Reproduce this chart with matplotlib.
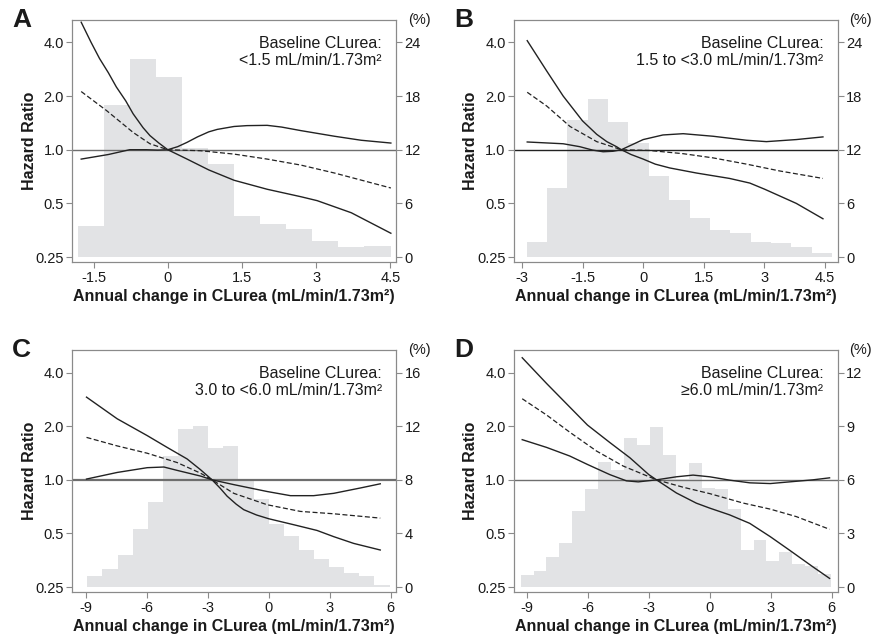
import numpy as np
import matplotlib; matplotlib.use("Agg")
import matplotlib.pyplot as plt

plt.rcParams["font.family"] = ["Liberation Sans", "DejaVu Sans"]
plt.rcParams["axes.unicode_minus"] = False

# ---- panel A: baseline CLurea < 1.5
a_x1 = [-1.75, -1.55, -1.38, -1.2, -1.04, -0.85, -0.70, -0.5, -0.36, -0.18, 0, 0.2, 0.39, 0.83, 1.34, 2.01, 2.69, 3.02, 3.71, 4.51]
a_hr1 = [5.19, 4.0, 3.25, 2.7, 2.25, 1.88, 1.59, 1.33, 1.20, 1.09, 1.0, 0.94, 0.886, 0.77, 0.674, 0.60, 0.545, 0.518, 0.443, 0.34]
a_x2 = [-1.75, -1.2, -0.77, -0.43, -0.2, 0, 0.2, 0.39, 0.6, 0.83, 1.0, 1.34, 1.6, 2.01, 2.3, 2.69, 3.37, 3.91, 4.51]
a_hr2 = [0.886, 0.94, 1.0, 1.0, 0.995, 1.0, 1.04, 1.10, 1.18, 1.26, 1.30, 1.35, 1.365, 1.37, 1.34, 1.28, 1.19, 1.13, 1.09]
a_xd = [-1.75, -1.24, -0.70, -0.36, 0, 0.66, 1.34, 2.01, 2.69, 3.37, 4.51]
a_hrd = [2.12, 1.66, 1.25, 1.08, 1.0, 0.987, 0.945, 0.886, 0.82, 0.74, 0.61]
a_bin0, a_binw = -1.82, 0.527
a_pct = [3.45, 16.95, 22.1, 20.1, 12.2, 10.35, 4.57, 3.75, 3.15, 1.8, 1.09, 1.27]

# ---- panel B: 1.5 to <3.0
b_x1 = [-2.87, -2.39, -1.98, -1.50, -1.15, -0.9, -0.66, -0.54, -0.3, 0, 0.3, 0.66, 1.32, 2.14, 2.64, 3.01, 3.79, 4.45]
b_hr1 = [4.09, 2.77, 2.0, 1.45, 1.22, 1.11, 1.04, 1.0, 0.94, 0.886, 0.83, 0.79, 0.74, 0.69, 0.65, 0.60, 0.50, 0.41]
b_x2 = [-2.87, -1.98, -1.57, -1.25, -0.99, -0.75, -0.54, -0.3, 0, 0.49, 0.99, 1.73, 2.56, 3.05, 3.79, 4.45]
b_hr2 = [1.105, 1.08, 1.04, 0.995, 0.974, 0.98, 1.0, 1.06, 1.14, 1.21, 1.23, 1.19, 1.13, 1.11, 1.14, 1.18]
b_xd = [-2.87, -2.39, -1.81, -1.15, -0.54, 0.16, 0.99, 1.73, 2.56, 3.38, 4.45]
b_hrd = [2.10, 1.76, 1.35, 1.11, 1.0, 0.99, 0.95, 0.90, 0.83, 0.76, 0.69]
b_bin0, b_binw = -2.885, 0.504
b_pct = [1.68, 7.76, 15.3, 17.65, 15.07, 12.76, 9.03, 6.34, 4.36, 2.99, 2.72, 1.64, 1.53, 1.08, 0.45]

# ---- panel C: 3.0 to <6.0
c_x1 = [-8.97, -7.46, -5.98, -5.0, -4.02, -3.36, -2.79, -2.4, -2.05, -1.6, -1.23, -0.6, 0, 1.23, 2.38, 3.2, 4.18, 5.49]
c_hr1 = [2.91, 2.20, 1.77, 1.52, 1.31, 1.14, 1.0, 0.9, 0.81, 0.73, 0.68, 0.635, 0.605, 0.56, 0.52, 0.48, 0.44, 0.404]
c_x2 = [-8.97, -7.46, -5.98, -5.16, -4.51, -3.36, -2.79, -1.72, -0.08, 1.07, 2.21, 3.2, 4.51, 5.49]
c_hr2 = [1.01, 1.10, 1.17, 1.18, 1.13, 1.05, 1.0, 0.94, 0.86, 0.815, 0.815, 0.84, 0.90, 0.95]
c_xd = [-8.97, -7.46, -5.98, -4.51, -3.36, -2.79, -1.72, -0.08, 1.56, 3.2, 5.49]
c_hrd = [1.73, 1.55, 1.41, 1.25, 1.09, 1.0, 0.84, 0.725, 0.665, 0.645, 0.61]
c_bin0, c_binw = -8.93, 0.744
c_pct = [0.8, 1.375, 2.375, 4.3, 6.375, 9.75, 11.8, 12.0, 10.4, 10.5,
         7.98, 6.6, 4.7, 3.8, 2.8, 2.1, 1.5, 1.08, 0.8, 0.125]

# ---- panel D: >= 6.0
d_x1 = [-9.23, -8.03, -6.89, -6.02, -4.92, -3.93, -3.0, -2.62, -1.64, -0.66, 0, 0.98, 1.97, 2.98, 3.93, 5.08, 5.9]
d_hr1 = [4.84, 3.47, 2.56, 2.03, 1.62, 1.33, 1.07, 1.0, 0.844, 0.74, 0.694, 0.636, 0.57, 0.48, 0.403, 0.325, 0.28]
d_x2 = [-9.23, -8.03, -6.89, -6.02, -4.92, -4.1, -3.52, -2.62, -1.64, -0.82, 0, 0.98, 1.97, 2.98, 3.93, 5.08, 5.9]
d_hr2 = [1.68, 1.52, 1.36, 1.22, 1.07, 0.987, 0.974, 1.0, 1.04, 1.063, 1.04, 0.996, 0.962, 0.953, 0.974, 1.0, 1.026]
d_xd = [-9.23, -8.03, -6.89, -5.57, -4.26, -2.62, -1.31, 0, 1.64, 2.98, 4.26, 5.9]
d_hrd = [2.85, 2.31, 1.85, 1.45, 1.195, 1.0, 0.909, 0.837, 0.741, 0.685, 0.622, 0.528]
d_bin0, d_binw = -9.31, 0.637
d_pct = [0.66, 0.9, 1.66, 2.45, 4.27, 5.46, 7.02, 6.55, 8.36, 7.95, 8.95, 7.38,
         6.03, 6.93, 5.56, 5.46, 4.37, 2.1, 2.64, 1.47, 1.96, 1.28, 1.17, 0.75]

hr_ticks = [0.25, 0.5, 1.0, 2.0, 4.0]
hr_labels = ["0.25", "0.5", "1.0", "2.0", "4.0"]

panels = [
    dict(tag="A", sub="<1.5 mL/min/1.73m\u00b2", x1=a_x1, h1=a_hr1, x2=a_x2, h2=a_hr2, xd=a_xd, hd=a_hrd,
         b0=a_bin0, bw=a_binw, pct=a_pct, xt=[-1.5, 0, 1.5, 3, 4.5], xl=["-1.5", "0", "1.5", "3", "4.5"],
         xlim=(-1.93, 4.62), pmax=24),
    dict(tag="B", sub="1.5 to <3.0 mL/min/1.73m\u00b2", x1=b_x1, h1=b_hr1, x2=b_x2, h2=b_hr2, xd=b_xd, hd=b_hrd,
         b0=b_bin0, bw=b_binw, pct=b_pct, xt=[-3, -1.5, 0, 1.5, 3, 4.5], xl=["-3", "-1.5", "0", "1.5", "3", "4.5"],
         xlim=(-3.2, 4.82), pmax=24),
    dict(tag="C", sub="3.0 to <6.0 mL/min/1.73m\u00b2", x1=c_x1, h1=c_hr1, x2=c_x2, h2=c_hr2, xd=c_xd, hd=c_hrd,
         b0=c_bin0, bw=c_binw, pct=c_pct, xt=[-9, -6, -3, 0, 3, 6], xl=["-9", "-6", "-3", "0", "3", "6"],
         xlim=(-9.67, 6.28), pmax=16),
    dict(tag="D", sub="\u22656.0 mL/min/1.73m\u00b2", x1=d_x1, h1=d_hr1, x2=d_x2, h2=d_hr2, xd=d_xd, hd=d_hrd,
         b0=d_bin0, bw=d_binw, pct=d_pct, xt=[-9, -6, -3, 0, 3, 6], xl=["-9", "-6", "-3", "0", "3", "6"],
         xlim=(-9.64, 6.31), pmax=12),
]

fig = plt.figure(figsize=(8.71, 6.41), dpi=100)
pos = [(0.083, 0.591), (0.590, 0.591), (0.083, 0.076), (0.590, 0.076)]
W, H = 0.372, 0.378
ylo, yhi = 0.234, 5.35
txt = "#1a1a1a"
spine_c = "#8a8a8a"

for p, (l, b) in zip(panels, pos):
    ax = fig.add_axes([l, b, W, H])
    ax2 = ax.twinx()
    ax.set_zorder(ax2.get_zorder() + 1)
    ax.patch.set_visible(False)

    # histogram on the right (%) axis
    n = len(p["pct"])
    edges = p["b0"] + p["bw"] * np.arange(n)
    ax2.bar(edges, p["pct"], width=p["bw"], align="edge", color="#e2e3e5", edgecolor="none")
    k = p["pmax"] / 4
    ax2.set_ylim((np.log2(ylo) + 2) * k, (np.log2(yhi) + 2) * k)
    ax2.set_yticks(np.arange(0, p["pmax"] + 1, k))
    ax2.set_yticklabels([f"{v:g}" for v in np.arange(0, p["pmax"] + 1, k)])

    # hazard ratio curves
    ax.set_yscale("log")
    ax.axhline(1.0, color="#6e6e6e" if p["tag"] != "B" else "#222222", lw=1.0 if p["tag"] != "C" else 1.6, zorder=1)
    ax.plot(p["x1"], p["h1"], color="#222222", lw=1.0)
    ax.plot(p["x2"], p["h2"], color="#222222", lw=1.0)
    ax.plot(p["xd"], p["hd"], color="#222222", lw=0.9, ls=(0, (4, 2)))
    ax.set_ylim(ylo, yhi)
    ax.set_xlim(*p["xlim"])
    ax.set_yticks(hr_ticks)
    ax.set_yticklabels(hr_labels)
    ax.minorticks_off()
    ax.set_xticks(p["xt"])
    ax.set_xticklabels(p["xl"])

    for a in (ax, ax2):
        for s in a.spines.values():
            s.set_color(spine_c)
            s.set_linewidth(0.8)
        a.tick_params(colors=spine_c, labelcolor=txt, labelsize=10.5, length=4, width=0.8, pad=2)

    ax.set_xlabel("Annual change in CLurea (mL/min/1.73m\u00b2)", fontsize=11.5, fontweight="bold", color=txt, labelpad=3)
    ax.set_ylabel("Hazard Ratio", fontsize=11.5, fontweight="bold", color=txt, labelpad=-1)
    ax.text(0.955, 0.935, "Baseline CLurea:\n" + p["sub"], transform=ax.transAxes, ha="right", va="top",
            fontsize=11.5, color=txt, linespacing=1.2)
    ax.text(1.035, 1.0, "(%)", transform=ax.transAxes, ha="left", va="center", fontsize=10.5, color=txt)
    ax.text(-0.185, 1.0, p["tag"], transform=ax.transAxes, ha="left", va="center",
            fontsize=19, fontweight="bold", color=txt)

fig.savefig("out.png", dpi=100)
